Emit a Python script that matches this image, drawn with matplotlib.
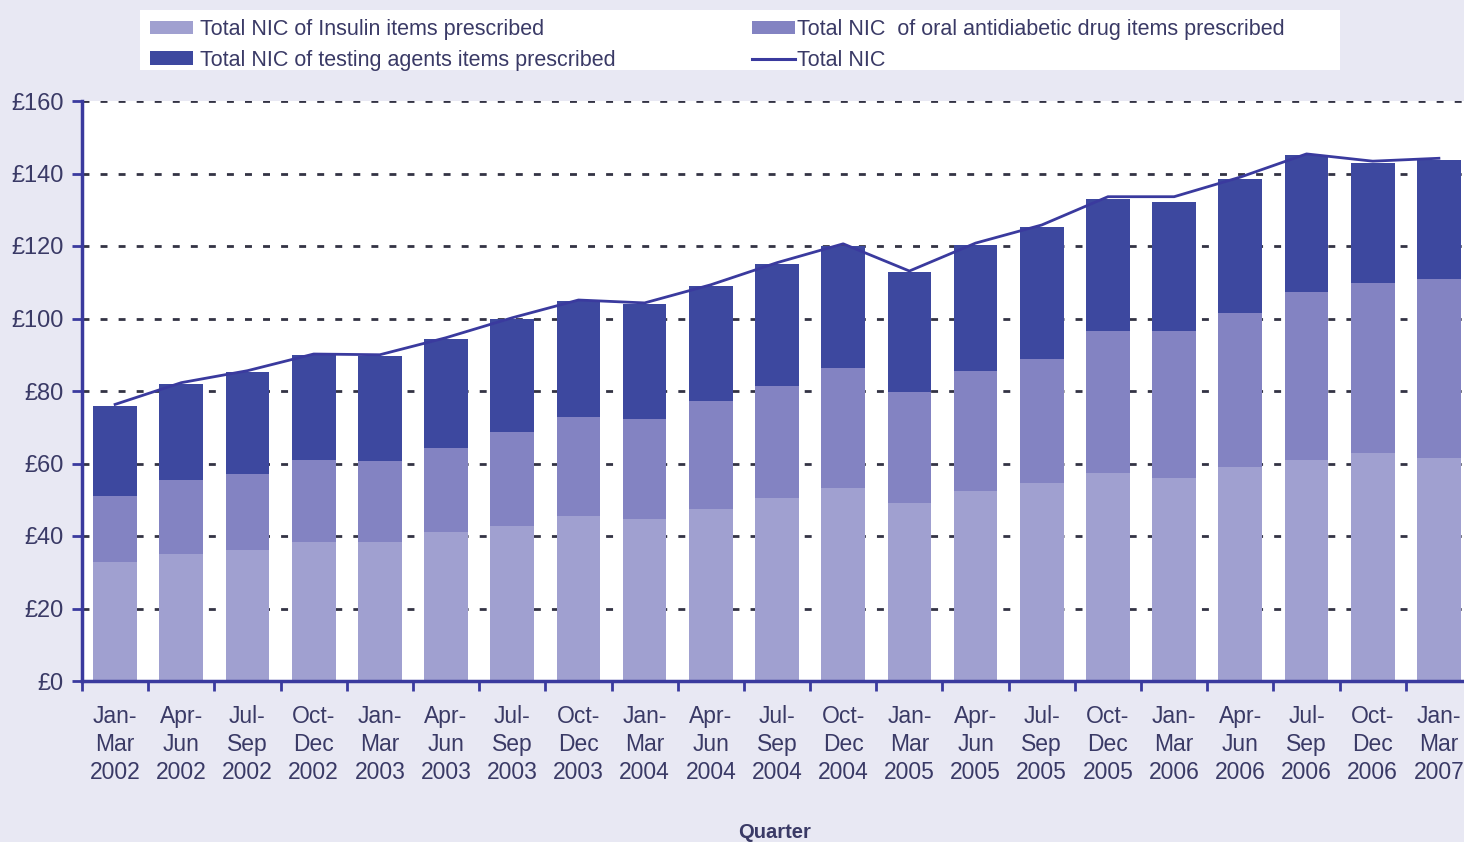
import matplotlib
matplotlib.use("Agg")
import matplotlib.pyplot as plt
from matplotlib.patches import Patch, Rectangle
from matplotlib.lines import Line2D
import numpy as np

quarters = ["Jan-\nMar\n2002", "Apr-\nJun\n2002", "Jul-\nSep\n2002", "Oct-\nDec\n2002",
            "Jan-\nMar\n2003", "Apr-\nJun\n2003", "Jul-\nSep\n2003", "Oct-\nDec\n2003",
            "Jan-\nMar\n2004", "Apr-\nJun\n2004", "Jul-\nSep\n2004", "Oct-\nDec\n2004",
            "Jan-\nMar\n2005", "Apr-\nJun\n2005", "Jul-\nSep\n2005", "Oct-\nDec\n2005",
            "Jan-\nMar\n2006", "Apr-\nJun\n2006", "Jul-\nSep\n2006", "Oct-\nDec\n2006",
            "Jan-\nMar\n2007"]

insulin = [32.7, 34.9, 36.1, 38.3, 38.3, 41.2, 42.7, 45.4, 44.6, 47.4, 50.4,
           53.2, 49.0, 52.3, 54.5, 57.3, 55.9, 58.9, 61.1, 63.0, 61.4]
oral = [18.3, 20.5, 20.9, 22.6, 22.4, 23.0, 25.9, 27.3, 27.6, 29.8, 30.9,
        33.1, 30.6, 33.1, 34.2, 39.3, 40.7, 42.6, 46.1, 46.9, 49.4]
testing = [24.9, 26.4, 28.2, 28.9, 28.9, 30.1, 31.2, 32.0, 31.7, 31.7, 33.7,
           33.8, 33.1, 34.9, 36.6, 36.5, 35.5, 37.1, 37.8, 33.1, 32.9]
total_nic = [76.3, 82.3, 85.6, 90.2, 90.0, 94.7, 100.2, 105.1, 104.3, 109.3, 115.4,
             120.6, 113.1, 120.8, 125.8, 133.6, 133.6, 139.0, 145.4, 143.4, 144.2]

legend_labels = ["Total NIC of Insulin items prescribed",
                 "Total NIC of testing agents items prescribed",
                 "Total NIC  of oral antidiabetic drug items prescribed",
                 "Total NIC"]
y_ticks = [0, 20, 40, 60, 80, 100, 120, 140, 160]
y_ticklabels = ["£0", "£20", "£40", "£60", "£80", "£100", "£120", "£140", "£160"]

c_ins = "#a0a0d0"
c_oral = "#8383c2"
c_test = "#3d489f"
c_line = "#3a3a9e"
c_bg = "#e8e8f3"
c_text = "#3a3a66"

plt.rcParams['font.family'] = ['Liberation Sans', 'DejaVu Sans']

fig = plt.figure(figsize=(14.64, 8.42), dpi=100, facecolor=c_bg)
ax = fig.add_axes([82/1464, 1-681/842, (1472-82)/1464, (681-101)/842])
ax.set_facecolor("white")

x = np.arange(len(quarters))
w = 0.66
ins = np.array(insulin)
orl = np.array(oral)
tst = np.array(testing)
ax.bar(x, ins, w, color=c_ins, zorder=2)
ax.bar(x, orl, w, bottom=ins, color=c_oral, zorder=2)
ax.bar(x, tst, w, bottom=ins+orl, color=c_test, zorder=2)
ax.plot(x, total_nic, color=c_line, lw=2.0, zorder=3)

ax.set_xlim(-0.5, len(quarters)-0.5)
ax.set_ylim(0, 160)
ax.set_yticks(y_ticks)
ax.set_yticklabels(y_ticklabels, fontsize=17, color=c_text)
ax.set_xticks(x)
ax.set_xticklabels(quarters, fontsize=16.5, color=c_text, linespacing=1.3)
ax.tick_params(axis='x', which='major', length=0, pad=17)
ax.set_xticks(np.arange(-0.5, len(quarters), 1.0), minor=True)
ax.tick_params(axis='x', which='minor', length=7, width=2, color=c_line, direction='out')
ax.tick_params(axis='y', length=7, width=2, color=c_line, direction='out', pad=6)

for sp in ['top', 'right']:
    ax.spines[sp].set_visible(False)
for sp in ['left', 'bottom']:
    ax.spines[sp].set_color(c_line)
    ax.spines[sp].set_linewidth(2.5)

for yv in y_ticks[1:]:
    ax.axhline(yv, color="#333344", lw=2, ls=(0, (2.5, 4)), zorder=1)

ax.set_xlabel("Quarter", fontsize=14.5, fontweight='bold', color=c_text)
ax.xaxis.set_label_coords((775-82)/(1472-82), -(832-681)/(681-101), transform=ax.transAxes)
ax.xaxis.label.set_va('center')

# legend box
fig.patches.append(Rectangle((140/1464, 1-70/842), 1200/1464, 60/842,
                             transform=fig.transFigure, facecolor="white",
                             edgecolor="none", zorder=0))
h1 = [Patch(facecolor=c_ins), Patch(facecolor=c_test)]
h2 = [Patch(facecolor=c_oral), Line2D([], [], color=c_line, lw=2.2)]
leg1 = fig.legend(h1, [legend_labels[0], legend_labels[1]], loc='upper left',
                  bbox_to_anchor=(135/1464, 1-4/842), frameon=False, fontsize=15.5,
                  handlelength=2.0, handleheight=0.6, handletextpad=0.3,
                  labelspacing=0.45, labelcolor=c_text, borderpad=0.2)
leg2 = fig.legend(h2, [legend_labels[2], legend_labels[3]], loc='upper left',
                  bbox_to_anchor=(737/1464, 1-4/842), frameon=False, fontsize=15.5,
                  handlelength=2.0, handleheight=0.6, handletextpad=0.1,
                  labelspacing=0.45, labelcolor=c_text, borderpad=0.2)

fig.savefig("out.png", dpi=100, facecolor=c_bg)
